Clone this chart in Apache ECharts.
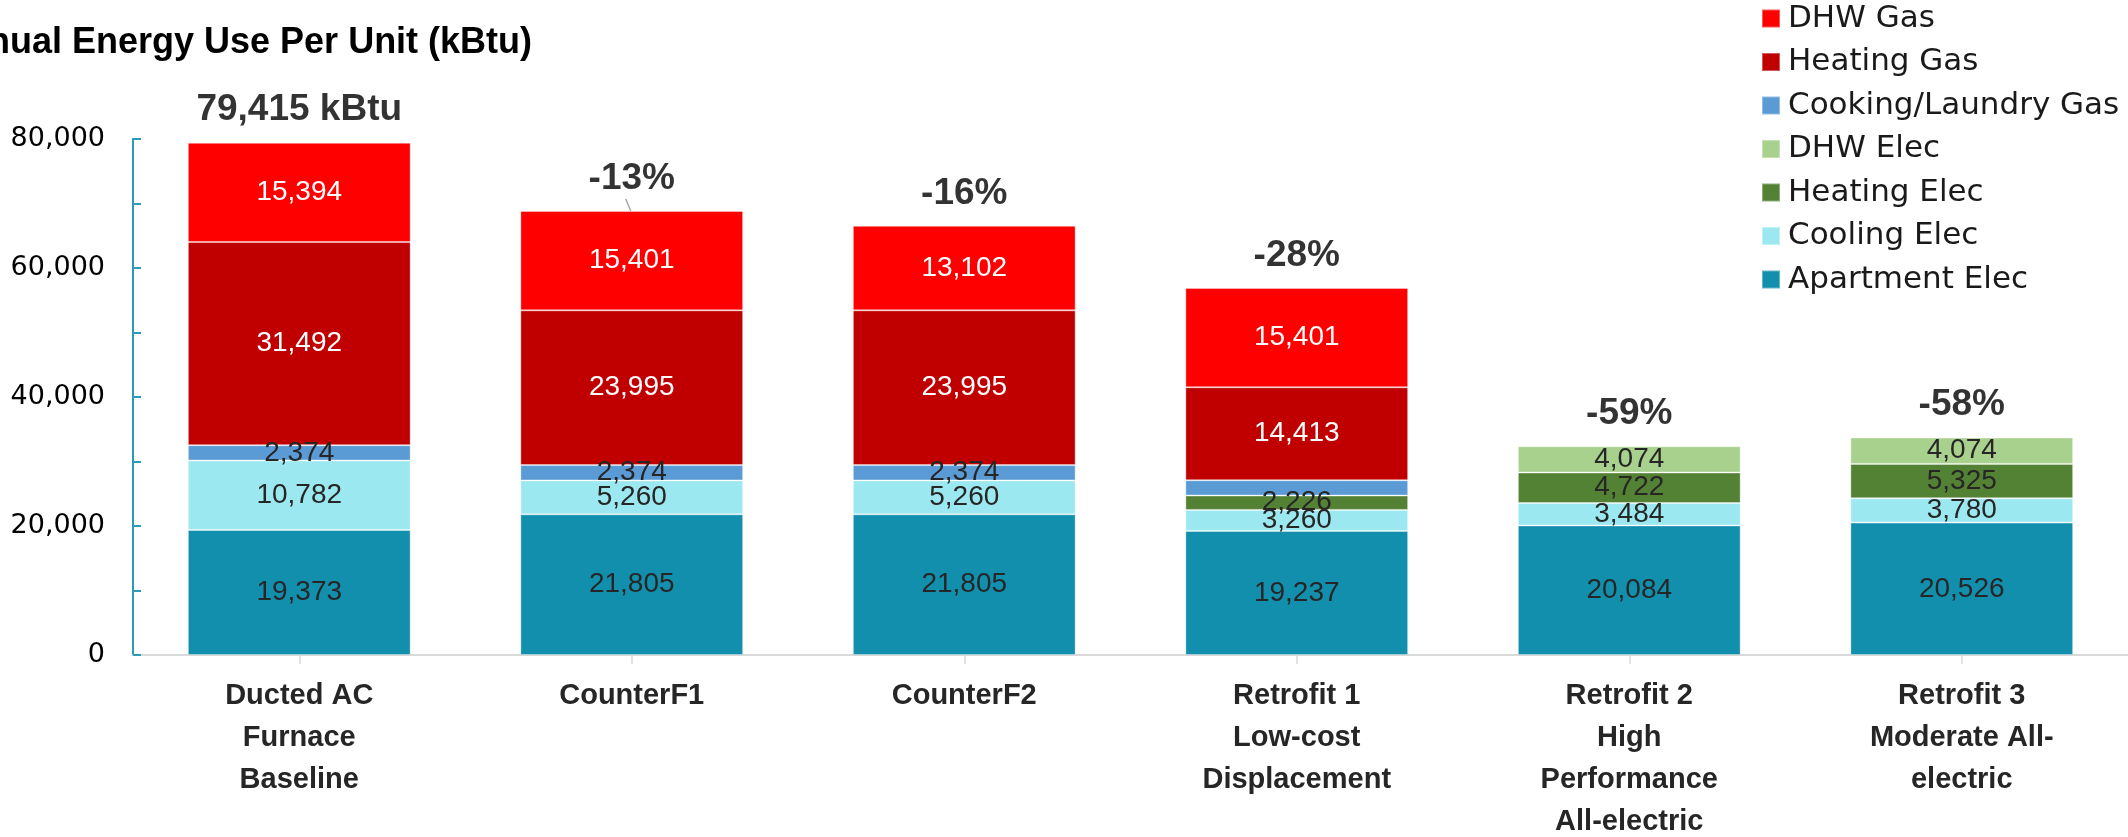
<!DOCTYPE html>
<html>
<head>
<meta charset="utf-8">
<script src="https://cdn.jsdelivr.net/npm/echarts@6/dist/echarts.min.js"></script>
<style>
  html, body { margin: 0; padding: 0; background: #fff; }
  #chart { width: 2128px; height: 837px; }
</style>
</head>
<body>
<div id="chart"></div>
<script>
// ---- Data ----
const categories = [
  'Ducted AC\nFurnace\nBaseline',
  'CounterF1',
  'CounterF2',
  'Retrofit 1\nLow-cost\nDisplacement',
  'Retrofit 2\nHigh\nPerformance\nAll-electric',
  'Retrofit 3\nModerate All-\nelectric'
];
const apartmentElec = [19373, 21805, 21805, 19237, 20084, 20526];
const coolingElec   = [10782, 5260, 5260, 3260, 3484, 3780];
const heatingElec   = [0, 0, 0, 2226, 4722, 5325];
const dhwElec       = [0, 0, 0, 0, 4074, 4074];
const cookingGas    = [2374, 2374, 2374, 2374, 0, 0];
const heatingGas    = [31492, 23995, 23995, 14413, 0, 0];
const dhwGas        = [15394, 15401, 13102, 15401, 0, 0];
const totalLabels   = ['79,415 kBtu', '-13%', '-16%', '-28%', '-59%', '-58%'];
const yTicks        = [0, 20000, 40000, 60000, 80000];

const seriesDefs = [
  { name: 'Apartment Elec',      data: apartmentElec, color: '#138FAE', text: '#262626' },
  { name: 'Cooling Elec',        data: coolingElec,   color: '#9CE8F0', text: '#262626' },
  { name: 'Heating Elec',        data: heatingElec,   color: '#548235', text: '#262626' },
  { name: 'DHW Elec',            data: dhwElec,       color: '#A9D18E', text: '#262626' },
  { name: 'Cooking/Laundry Gas', data: cookingGas,    color: '#5B9BD5', text: '#262626', hide: [3] },
  { name: 'Heating Gas',         data: heatingGas,    color: '#C00000', text: '#FFFFFF' },
  { name: 'DHW Gas',             data: dhwGas,        color: '#FF0000', text: '#FFFFFF' }
];

const totals = categories.map((c, i) => seriesDefs.reduce((s, d) => s + d.data[i], 0));

const fmt = v => v.toLocaleString('en-US');

const series = seriesDefs.map(d => ({
  name: d.name,
  type: 'bar',
  stack: 'total',
  barCategoryGap: '33%',
  itemStyle: { color: d.color, borderColor: 'rgba(255,255,255,0.35)', borderWidth: 1 },
  label: {
    show: true,
    position: 'inside',
    color: d.text,
    fontFamily: 'Liberation Sans, Arial, sans-serif',
    fontSize: 28,
    formatter: p => (p.value ? fmt(p.value) : '')
  },
  data: d.data.map((v, i) => {
    if (!v) return null;
    if (d.hide && d.hide.indexOf(i) >= 0) return { value: v, label: { show: false } };
    return v;
  })
}));

series.push({
  name: 'Totals',
  type: 'scatter',
  symbolSize: 0,
  silent: true,
  z: 10,
  data: totals,
  label: {
    show: true,
    position: 'top',
    distance: 14,
    color: '#000000',
    fontFamily: 'Liberation Sans, Arial, sans-serif',
    fontWeight: 'bold',
    fontSize: 37,
    formatter: p => totalLabels[p.dataIndex]
  }
});

const titleGraphic = {
  type: 'text',
  left: -60,
  top: 25,
  style: {
    text: 'Annual Energy Use Per Unit (kBtu)',
    fill: '#000',
    font: 'bold 36px "Liberation Sans", Arial, sans-serif'
  }
};

const chart = echarts.init(document.getElementById('chart'), null, { renderer: 'canvas' });
chart.setOption({
  animation: false,
  backgroundColor: '#fff',
  graphic: [titleGraphic],
  legend: {
    orient: 'vertical',
    left: 1761,
    top: 3,
    padding: 0,
    itemWidth: 18,
    itemHeight: 18,
    itemGap: 12.5,
    icon: 'rect',
    data: ['DHW Gas', 'Heating Gas', 'Cooking/Laundry Gas', 'DHW Elec', 'Heating Elec', 'Cooling Elec', 'Apartment Elec'],
    textStyle: {
      fontFamily: 'DejaVu Sans, sans-serif',
      fontSize: 31,
      lineHeight: 30,
      color: '#1a1a1a',
      padding: [0, 0, 0, 3]
    }
  },
  grid: { left: 133, right: 0, top: 139, bottom: 182, containLabel: false, outerBoundsMode: 'none' },
  xAxis: {
    type: 'category',
    data: categories,
    axisLine: { show: true, lineStyle: { color: '#D9D9D9', width: 2 } },
    axisTick: { show: true, alignWithLabel: true, length: 9, lineStyle: { color: '#D9D9D9', width: 1.5 } },
    axisLabel: {
      interval: 0,
      margin: 20,
      color: '#262626',
      fontFamily: 'Liberation Sans, Arial, sans-serif',
      fontWeight: 'bold',
      fontSize: 29,
      lineHeight: 42
    }
  },
  yAxis: {
    type: 'value',
    min: yTicks[0],
    max: yTicks[yTicks.length - 1],
    interval: 20000,
    splitLine: { show: false },
    axisLine: { show: true, lineStyle: { color: '#2A9BB8', width: 2 } },
    axisTick: { show: true, inside: true, length: 8, lineStyle: { color: '#2A9BB8', width: 2 } },
    minorTick: { show: true, splitNumber: 2, length: 8, lineStyle: { color: '#2A9BB8', width: 2 } },
    axisLabel: {
      margin: 28,
      color: '#000000',
      fontFamily: 'DejaVu Sans, sans-serif',
      fontSize: 27,
      formatter: v => fmt(v)
    }
  },
  series: series
});

// small leader line from the "-13%" label to its bar
const p = chart.convertToPixel({ gridIndex: 0 }, [1, totals[1]]);
chart.setOption({
  graphic: [titleGraphic, {
    type: 'line',
    shape: { x1: p[0] - 6, y1: p[1] - 12, x2: p[0] - 1, y2: p[1] },
    style: { stroke: '#A6A6A6', lineWidth: 1.5 },
    z: 20
  }]
});
</script>
</body>
</html>
